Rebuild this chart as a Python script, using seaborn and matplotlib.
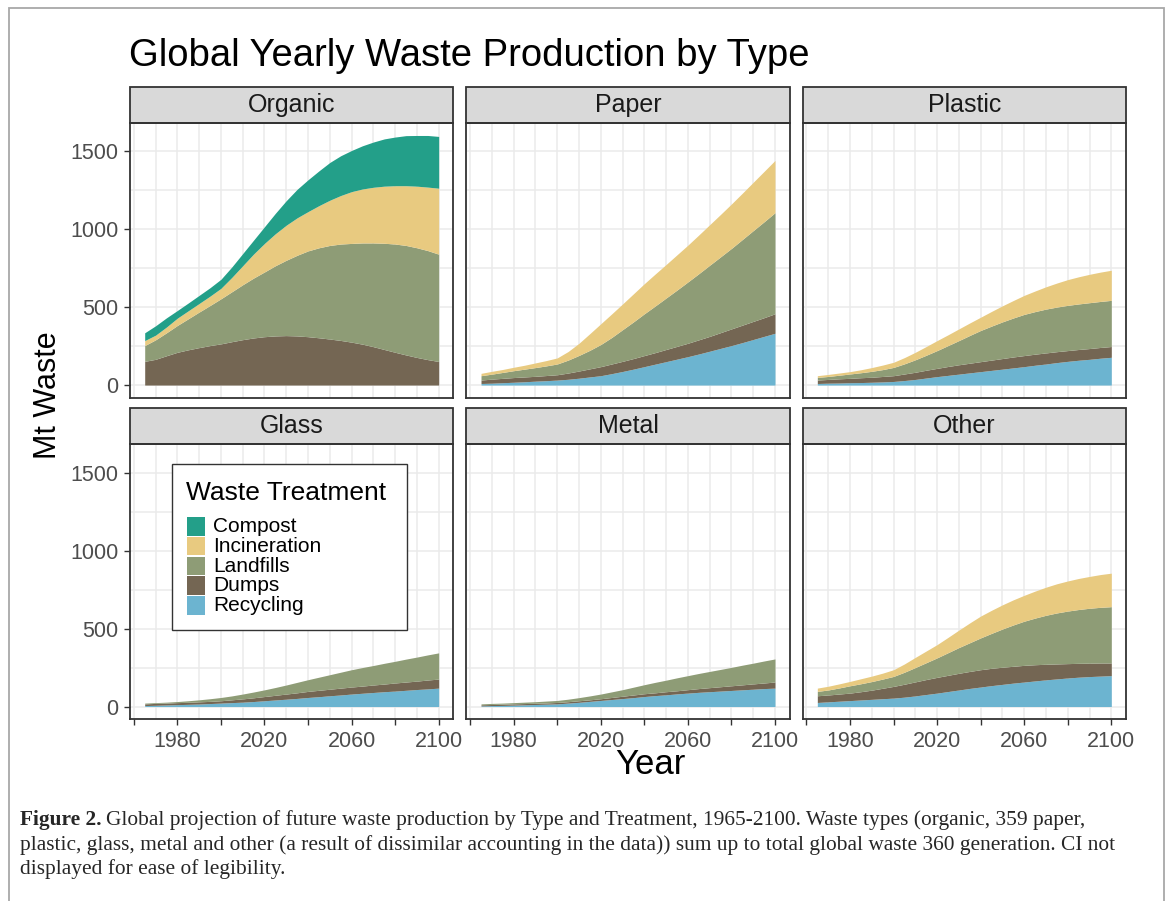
import matplotlib
matplotlib.use("Agg")
import matplotlib.pyplot as plt
from matplotlib.patches import Rectangle
import pandas as pd
import seaborn as sns

# ---- data (Mt per year, per treatment layer) ----
years = list(range(1965, 2101, 5))
waste_types = ["Organic", "Paper", "Plastic", "Glass", "Metal", "Other"]
treatments = ["Compost", "Incineration", "Landfills", "Dumps", "Recycling"]
treatment_colors = ["#239F89", "#E8CA80", "#8E9C76", "#746653", "#6CB4D0"]

organic_dumps = [152, 165, 188, 210, 226, 240, 253, 264, 278, 291, 302, 310, 315, 317,
                 315, 310, 303, 295, 286, 275, 262, 246, 228, 210, 193, 177, 163, 151]
organic_landfills = [101, 125, 147, 172, 199, 228, 257, 289, 320, 352, 384, 415, 450, 483,
                     517, 550, 577, 600, 618, 633, 649, 665, 681, 694, 702, 703, 699, 688]
organic_incineration = [32, 30, 37, 47, 51, 55, 60, 67, 92, 122, 154, 183, 205, 225,
                        240, 252, 270, 290, 311, 332, 346, 357, 366, 374, 383, 395, 407, 423]
organic_compost = [50, 60, 59, 49, 50, 52, 54, 58, 67, 78, 89, 107, 131, 157,
                   183, 204, 223, 242, 255, 264, 277, 290, 303, 312, 321, 325, 331, 332]

paper_recycling = [10, 12, 15, 18, 21, 25, 28, 32, 37, 44, 52, 60, 73, 87,
                   102, 118, 134, 150, 166, 182, 199, 217, 235, 253, 272, 292, 312, 332]
paper_dumps = [22, 26, 28, 30, 31, 31, 33, 34, 40, 46, 52, 58, 62, 65,
               68, 71, 74, 78, 82, 86, 91, 95, 101, 107, 112, 116, 120, 125]
paper_landfills = [28, 32, 38, 44, 50, 56, 62, 69, 83, 100, 119, 142, 170, 203,
                   235, 268, 299, 330, 361, 393, 424, 456, 486, 516, 549, 582, 615, 648]
paper_incineration = [15, 18, 19, 22, 25, 30, 34, 39, 55, 78, 107, 133, 151, 165,
                      180, 193, 205, 215, 226, 236, 248, 260, 272, 285, 297, 310, 323, 335]

plastic_recycling = [10, 12, 13, 15, 16, 18, 20, 23, 29, 36, 45, 54, 62, 70,
                     78, 86, 94, 102, 110, 118, 127, 135, 144, 152, 159, 165, 172, 178]
plastic_dumps = [22, 24, 27, 28, 31, 32, 35, 37, 42, 46, 50, 53, 57, 60,
                 62, 64, 66, 68, 70, 71, 71, 71, 70, 69, 69, 69, 69, 69]
plastic_landfills = [17, 19, 23, 28, 32, 38, 44, 53, 65, 80, 96, 114, 134, 155,
                     178, 200, 218, 235, 250, 264, 273, 281, 286, 290, 292, 294, 295, 296]
plastic_incineration = [11, 13, 14, 15, 19, 24, 29, 33, 40, 48, 56, 64, 69, 75,
                        80, 85, 94, 103, 112, 122, 132, 143, 154, 165, 174, 182, 188, 193]

glass_recycling = [6, 8, 10, 12, 14, 16, 19, 22, 25, 28, 32, 37, 42, 47,
                   52, 58, 63, 69, 74, 80, 85, 90, 95, 99, 104, 109, 113, 118]
glass_dumps = [11, 12, 12, 13, 13, 14, 14, 15, 18, 21, 24, 27, 30, 33,
               36, 39, 41, 42, 44, 45, 46, 48, 49, 52, 53, 54, 57, 58]
glass_landfills = [5, 5, 6, 7, 10, 13, 17, 21, 25, 31, 37, 43, 50, 58,
                   67, 75, 84, 93, 102, 111, 119, 125, 133, 139, 147, 154, 161, 168]

metal_recycling = [4, 6, 7, 9, 11, 13, 15, 17, 22, 27, 33, 39, 45, 51,
                   57, 64, 70, 75, 81, 86, 91, 95, 99, 103, 107, 111, 115, 118]
metal_dumps = [7, 7, 8, 8, 8, 8, 8, 9, 9, 10, 10, 11, 13, 15,
               17, 18, 18, 20, 20, 22, 24, 26, 28, 30, 32, 34, 36, 39]
metal_landfills = [6, 7, 7, 8, 9, 10, 12, 13, 16, 20, 25, 30, 36, 42,
                   50, 58, 67, 74, 83, 90, 97, 104, 111, 118, 126, 133, 141, 148]

other_recycling = [26, 30, 34, 38, 42, 46, 50, 54, 60, 68, 77, 86, 96, 106,
                   116, 125, 134, 142, 150, 157, 164, 171, 177, 183, 188, 192, 195, 198]
other_dumps = [43, 44, 46, 48, 53, 59, 67, 75, 83, 90, 96, 101, 104, 107,
               109, 111, 111, 110, 108, 107, 104, 100, 96, 92, 89, 86, 84, 81]
other_landfills = [28, 32, 39, 47, 51, 55, 59, 64, 77, 92, 108, 125, 145, 165,
                   184, 204, 224, 245, 265, 283, 299, 314, 327, 337, 345, 352, 357, 361]
other_incineration = [21, 24, 26, 28, 32, 35, 38, 43, 53, 65, 75, 85, 98, 112,
                      127, 140, 148, 155, 161, 166, 173, 180, 187, 193, 199, 204, 210, 215]

series = {
    "Organic": {"Dumps": organic_dumps, "Landfills": organic_landfills,
                "Incineration": organic_incineration, "Compost": organic_compost},
    "Paper": {"Recycling": paper_recycling, "Dumps": paper_dumps, "Landfills": paper_landfills,
              "Incineration": paper_incineration},
    "Plastic": {"Recycling": plastic_recycling, "Dumps": plastic_dumps, "Landfills": plastic_landfills,
                "Incineration": plastic_incineration},
    "Glass": {"Recycling": glass_recycling, "Dumps": glass_dumps, "Landfills": glass_landfills},
    "Metal": {"Recycling": metal_recycling, "Dumps": metal_dumps, "Landfills": metal_landfills},
    "Other": {"Recycling": other_recycling, "Dumps": other_dumps, "Landfills": other_landfills,
              "Incineration": other_incineration},
}

rows = []
for wtype, layers in series.items():
    for treat, vals in layers.items():
        assert len(vals) == len(years), (wtype, treat)
        for yr, v in zip(years, vals):
            rows.append({"type": wtype, "treatment": treat, "year": yr, "mt": v})
df = pd.DataFrame(rows)

palette = dict(zip(treatments, treatment_colors))
stack_order = ["Recycling", "Dumps", "Landfills", "Incineration", "Compost"]

# ---- styling ----
sns.set_theme(style="whitegrid")
plt.rcParams["font.family"] = ["Liberation Sans", "DejaVu Sans"]

W, H = 1166, 901
DARK = "#333333"


def draw_stack(data, **kws):
    ax = plt.gca()
    wide = (data.pivot(index="year", columns="treatment", values="mt")
            .reindex(columns=stack_order).fillna(0))
    ax.stackplot(wide.index, [wide[c].values for c in stack_order],
                 colors=[palette[c] for c in stack_order], linewidth=0)


g = sns.FacetGrid(df, col="type", col_wrap=3, col_order=waste_types,
                  height=2.8, aspect=1.18, sharex=True, sharey=True, despine=False)
g.map_dataframe(draw_stack)
g.set_titles("")
g.set_axis_labels("", "")

fig = g.figure
fig.set_size_inches(W / 100, H / 100)
fig.subplots_adjust(left=130 / W, right=1126 / W, top=1 - 123 / H, bottom=1 - 719 / H,
                    wspace=0.04, hspace=0.171)

axes = g.axes.flatten()
axes[0].set_xlim(1958.25, 2106.75)
axes[0].set_ylim(-80, 1680)
axes[0].set_xticks(list(range(1960, 2101, 20)),
                   labels=["", "1980", "", "2020", "", "2060", "", "2100"])
axes[0].set_xticks(list(range(1970, 2100, 20)), minor=True)
axes[0].set_yticks([0, 500, 1000, 1500], labels=["0", "500", "1000", "1500"])
axes[0].set_yticks([250, 750, 1250], minor=True)

strip_h = 36 / 274.5
for i, ax in enumerate(axes):
    r, c = divmod(i, 3)
    ax.set_facecolor("white")
    ax.grid(which="both", color="#EBEBEB", linewidth=1.1)
    ax.set_axisbelow(True)
    for sp in ax.spines.values():
        sp.set_visible(True)
        sp.set_color(DARK)
        sp.set_linewidth(1.3)
    ax.tick_params(which="major", direction="out", color=DARK, width=1.0, length=4.5,
                   labelsize=15.5, labelcolor="#4D4D4D", pad=4)
    ax.tick_params(which="minor", length=0)
    ax.tick_params(axis="x", bottom=(r == 1), labelbottom=(r == 1))
    ax.tick_params(axis="y", left=(c == 0), labelleft=(c == 0))
    ax.add_patch(Rectangle((0, 1), 1, strip_h, transform=ax.transAxes, clip_on=False,
                           facecolor="#D9D9D9", edgecolor=DARK, linewidth=1.3))
    ax.text(0.5, 1 + strip_h / 2, waste_types[i], transform=ax.transAxes,
            ha="center", va="center", fontsize=18, color="#1A1A1A")


def fx(px):
    return px / W


def fy(py):
    return 1 - py / H


# titles
fig.text(fx(129), fy(66), "Global Yearly Waste Production by Type", fontsize=27.5,
         color="black", va="baseline", ha="left")
fig.text(fx(650), fy(765), "Year", fontsize=25, ha="center", va="center", color="black")
fig.text(fx(48), fy(395), "Mt Waste", fontsize=22, rotation=90, ha="center", va="center",
         color="black")

# legend drawn inside the Glass panel
box = Rectangle((fx(172), fy(630)), (407 - 172) / W, (630 - 464) / H, transform=fig.transFigure,
                facecolor="white", edgecolor=DARK, linewidth=1.0, zorder=10)
fig.add_artist(box)
fig.text(fx(186), fy(500), "Waste Treatment", fontsize=19, va="baseline", ha="left",
         color="black", zorder=11)
pitch = 19.8
for k, (name, col) in enumerate(zip(treatments, treatment_colors)):
    top = 517 + k * pitch
    fig.add_artist(Rectangle((fx(187), fy(top + pitch - 1.2)), 18 / W, (pitch - 1.2) / H,
                             transform=fig.transFigure, facecolor=col, edgecolor="none",
                             zorder=11))
    fig.text(fx(213), fy(top + pitch / 2 - 0.5), name, fontsize=15, va="center", ha="left",
             color="black", zorder=12)

# outer frame
fig.add_artist(Rectangle((fx(9), -0.05), (1164 - 9) / W, fy(8) + 0.05, transform=fig.transFigure,
                         fill=False, edgecolor="#A8A8A8", linewidth=1.3, zorder=20))

# caption
cap_family = ["Liberation Serif", "DejaVu Serif"]
cap_size = 15.4
lines = [
    "Global projection of future waste production by Type and Treatment, 1965-2100. Waste types (organic, 359 paper,",
    "plastic, glass, metal and other (a result of dissimilar accounting in the data)) sum up to total global waste 360 generation. CI not",
    "displayed for ease of legibility.",
]
t0 = fig.text(fx(20), fy(820), "Figure 2.", fontsize=cap_size, fontweight="bold",
              family=cap_family, va="center", ha="left")
fig.canvas.draw()
bb = t0.get_window_extent()
fig.text((bb.x1 + 4) / W, fy(820), lines[0], fontsize=cap_size, family=cap_family,
         va="center", ha="left")
fig.text(fx(20), fy(845), lines[1], fontsize=cap_size, family=cap_family, va="center", ha="left")
fig.text(fx(20), fy(869), lines[2], fontsize=cap_size, family=cap_family, va="center", ha="left")

fig.savefig("out.png", dpi=100)
